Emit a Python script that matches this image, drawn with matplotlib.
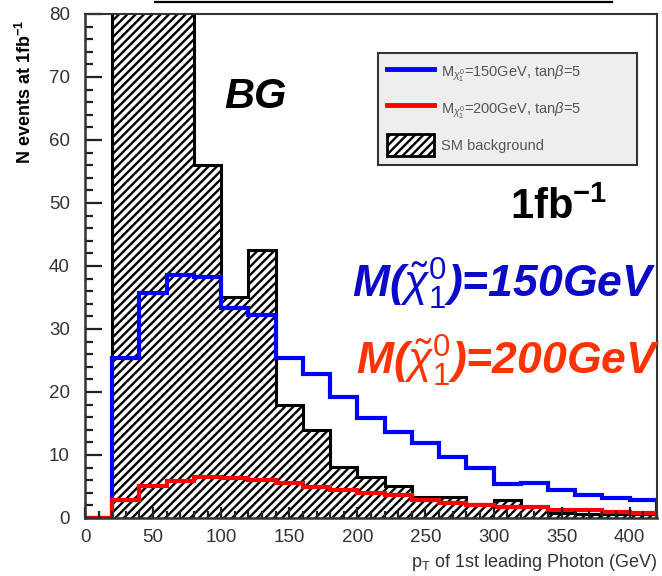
import numpy as np
import matplotlib
matplotlib.use("Agg")
import matplotlib.pyplot as plt
from matplotlib.lines import Line2D
from matplotlib.patches import Patch

plt.rcParams['font.family'] = ['Liberation Sans', 'DejaVu Sans']
plt.rcParams['mathtext.fontset'] = 'custom'
plt.rcParams['mathtext.rm'] = 'Liberation Sans'
plt.rcParams['mathtext.it'] = 'Liberation Sans:italic'
plt.rcParams['mathtext.bf'] = 'Liberation Sans:bold'
plt.rcParams['hatch.linewidth'] = 1.7

# pT of leading photon, 20 GeV bins from 0 to 420
bin_edges = np.arange(0, 440, 20)

# SM background (first three filled bins run off the top of the frame)
sm_background = [0, 140, 110, 90, 56, 35, 42.5, 18, 14, 8.1, 6.5, 5.1, 3.4,
                 3.4, 2.2, 2.9, 1.8, 0.8, 0.7, 0.7, 0.6]
# neutralino mass 150 GeV, tan(beta)=5
sig_150 = [0, 25.4, 35.7, 38.5, 38.2, 33.3, 32.2, 25.4, 22.9, 19.2, 15.9,
           13.7, 11.9, 9.7, 8.0, 5.4, 5.6, 4.4, 3.7, 3.2, 2.9]
# neutralino mass 200 GeV, tan(beta)=5
sig_200 = [0, 2.9, 5.1, 5.9, 6.5, 6.3, 6.0, 5.5, 4.9, 4.4, 4.0, 3.7, 2.9,
           2.4, 2.0, 1.8, 1.7, 1.3, 1.2, 0.9, 0.8]

legend_labels = [r'M$_{\chi_1^0}$=150GeV, tan$\beta$=5',
                 r'M$_{\chi_1^0}$=200GeV, tan$\beta$=5',
                 'SM background']

fig = plt.figure(figsize=(6.62, 5.76), dpi=100)
ax = fig.add_axes([0.1284, 0.1007, 0.864, 0.875])

# hatched background + black outline
ax.stairs(sm_background, bin_edges, fill=True, facecolor='none',
          edgecolor='black', hatch='////', linewidth=0)
ax.stairs(sm_background, bin_edges, color='black', linewidth=2.2)
ax.stairs(sig_150, bin_edges, color='#0000ff', linewidth=3)
ax.stairs(sig_200, bin_edges, color='#ff0000', linewidth=3)

ax.set_xlim(0, 420)
ax.set_ylim(0, 80)
ax.set_xticks(np.arange(0, 401, 50))
ax.set_xticks(np.arange(0, 421, 10), minor=True)
ax.set_yticks(np.arange(0, 81, 10))
ax.set_yticks(np.arange(0, 81, 2), minor=True)
ax.tick_params(axis='both', which='both', direction='in', colors='#222222',
               labelcolor='#333333', labelsize=13.5, width=1.6)
ax.tick_params(axis='y', which='major', length=12, pad=11)
ax.tick_params(axis='y', which='minor', length=6)
ax.tick_params(axis='x', which='major', length=8, pad=8)
ax.tick_params(axis='x', which='minor', length=5)
for side in ['left', 'bottom']:
    ax.spines[side].set_linewidth(1.8)
    ax.spines[side].set_color('#333333')
for side in ['top', 'right']:
    ax.spines[side].set_linewidth(1.5)
    ax.spines[side].set_color('#333333')

ax.set_xlabel(r'p$_{\mathrm{T}}$ of 1st leading Photon (GeV)', fontsize=13,
              color='#333333', loc='right', labelpad=4)
ax.set_ylabel(r'N events at 1fb$^{\mathbf{-1}}$', fontsize=13,
              fontweight='bold', loc='top')
ax.yaxis.set_label_coords(-0.088, 0.988)

handles = [Line2D([], [], color='#0000ff', linewidth=3.5),
           Line2D([], [], color='#ff0000', linewidth=3.5),
           Patch(facecolor='white', edgecolor='black', hatch='////', linewidth=2)]
leg = ax.legend(handles, legend_labels, loc='upper left',
                bbox_to_anchor=(0.5, 0.685, 0.477, 0.253), mode='expand',
                fontsize=10.5, labelcolor='#555555', handlelength=3.2,
                handleheight=2.0, handletextpad=0.5, labelspacing=0.9,
                borderpad=0.6, fancybox=False, facecolor='#eeeeee',
                edgecolor='#333333', framealpha=1.0)
leg.get_frame().set_linewidth(1.5)

ax.text(125, 66.8, 'BG', fontsize=30, fontweight='bold', style='italic',
        ha='center', va='center')
ax.text(312, 49.2, r'1fb$^{\mathbf{-1}}$', fontsize=30, fontweight='bold',
        ha='left', va='center')
ax.text(196, 37.0, r'M($\tilde{\chi}_1^0$)=150GeV', fontsize=32,
        fontweight='bold', style='italic', color='#0a0ac8',
        ha='left', va='center')
ax.text(199, 24.8, r'M($\tilde{\chi}_1^0$)=200GeV', fontsize=32,
        fontweight='bold', style='italic', color='#ff3300',
        ha='left', va='center')

# frame edge running along the top of the page
fig.add_artist(Line2D([0.234, 0.924], [0.9965, 0.9965], color='black',
                      linewidth=1.6, transform=fig.transFigure))

fig.savefig('out.png', dpi=100)
